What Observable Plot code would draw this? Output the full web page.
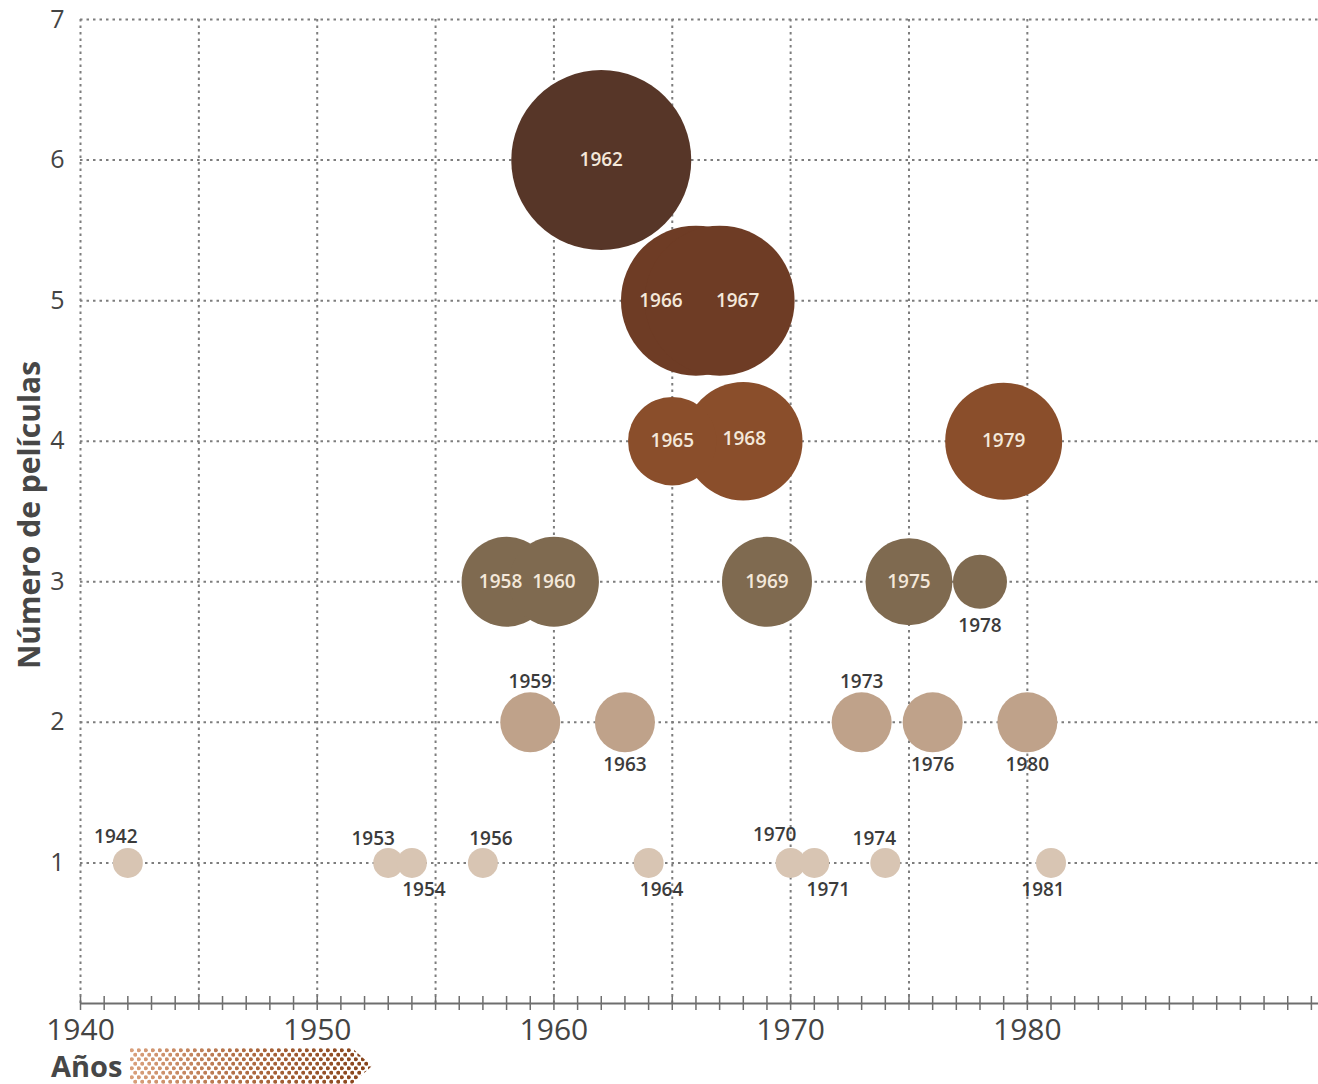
<!DOCTYPE html>
<html><head><meta charset="utf-8">
<script src="https://cdn.jsdelivr.net/npm/d3@7"></script>
<script src="https://cdn.jsdelivr.net/npm/@observablehq/plot@0.6"></script>
<style>
html,body{margin:0;padding:0;background:#fff;}
#chart{width:1318px;height:1084px;overflow:hidden;}
</style></head><body><div id="chart"></div>
<script>
// ---- data ----
const anios      = [1942,1953,1954,1957,1964,1970,1971,1974,1981, 1959,1963,1973,1976,1980, 1958,1960,1969,1975,1978, 1965,1968,1979, 1966,1967, 1962];
const etiquetas  = ["1942","1953","1954","1956","1964","1970","1971","1974","1981","1959","1963","1973","1976","1980","1958","1960","1969","1975","1978","1965","1968","1979","1966","1967","1962"];
const peliculas  = [1,1,1,1,1,1,1,1,1, 2,2,2,2,2, 3,3,3,3,3, 4,4,4, 5,5, 6];
const tamanio    = [1,1,1,1,1,1,1,1,1, 2,2,2,2,2, 3,3,3,2.9,1.8, 2.95,3.95,3.9, 5,5, 6];
const yTicks     = [1,2,3,4,5,6,7];
const xTickLabels = [1940,1950,1960,1970,1980];
const xGrid      = [1940,1945,1950,1955,1960,1965,1970,1975,1980];
const xMinorTicks = d3.range(1940, 1993);
const tituloY = "Número de películas";
const tituloX = "Años";

// ---- styling / layout ----
const colores = ["#d8c5b3","#bfa28a","#7f6a50","#8a4e2b","#6e3c25","#573628"];
// label placement offsets in px (relative to bubble centre)
const labelPos = {
  "1942":[-12,-26],"1953":[-15,-24],"1954":[12,27],"1956":[8,-24],"1964":[13,27],
  "1970":[-16,-28],"1971":[14,27],"1974":[-11,-24],"1981":[-8,27],
  "1959":[0,-40],"1963":[0,43],"1973":[0,-40],"1976":[0,43],"1980":[0,43],"1978":[0,44],
  "1958":[-6,0],"1966":[-35,0],"1967":[18,0],"1968":[1,-2]
};
const inside = new Set(["1958","1960","1969","1975","1965","1968","1979","1966","1967","1962"]);

const data = anios.map((a,i)=>({anio:a, label:etiquetas[i], n:peliculas[i], t:tamanio[i]}));
const FONT = "'Open Sans', 'DejaVu Sans', sans-serif";
const GRID = {stroke:"#7d7d7d", strokeWidth:2, strokeDasharray:"2.5,4"};

const labelMarks = data.map(d => {
  const [dx,dy] = labelPos[d.label] || [0,0];
  return Plot.text([d], {x:"anio", y:"n", text:"label", dx, dy,
    fill: inside.has(d.label) ? "#f4e8da" : "#3b3b3b",
    fontSize: 19, fontWeight: 600, fontFamily: FONT,
    style: "letter-spacing:1px"});
});

const chart = Plot.plot({
  width: 1318, height: 1084,
  marginLeft: 80, marginRight: 0, marginTop: 19, marginBottom: 81,
  style: {fontFamily: FONT, background: "#fff"},
  x: {domain: [1940, 1992.3], label: null},
  y: {domain: [0, 7], label: null},
  r: {type: "linear", domain: [0, 6], range: [0, 90]},
  color: {type: "ordinal", domain: [1,2,3,4,5,6], range: colores},
  marks: [
    Plot.ruleY(yTicks, GRID),
    Plot.ruleX(xGrid, {y1:0, y2:7, ...GRID}),
    Plot.ruleY([0], {stroke:"#6e6e6e", strokeWidth:2}),
    Plot.ruleX(xMinorTicks, {y1:0, y2:0, insetTop:-7, insetBottom:-7, stroke:"#6e6e6e", strokeWidth:1.5}),
    Plot.axisX(xTickLabels, {tickSize:0, tickPadding:15, tickFormat:d=>String(d), fontSize:30, fill:"#444", label:null}),
    Plot.axisY(yTicks, {tickSize:0, tickPadding:16, tickFormat:d=>String(d), fontSize:25, fill:"#444", label:null}),
    Plot.dot(data, {x:"anio", y:"n", r:"t", fill:"n", stroke:"none"}),
    ...labelMarks
  ]
});
document.getElementById("chart").appendChild(chart);

// ---- titles and arrow decoration ----
const svg = d3.select(chart);
svg.append("text")
  .attr("transform", "translate(32,515) rotate(-90)")
  .attr("text-anchor","middle").attr("dominant-baseline","middle")
  .attr("font-family", FONT).attr("font-weight",700).attr("font-size",30)
  .attr("fill","#474747").text(tituloY);
svg.append("text")
  .attr("x",51).attr("y",1077).attr("text-anchor","start")
  .attr("font-family", FONT).attr("font-weight",700).attr("font-size",29)
  .attr("fill","#474747").text(tituloX);

const defs = svg.append("defs");
const g = defs.append("linearGradient").attr("id","arrowGrad")
  .attr("gradientUnits","userSpaceOnUse").attr("x1",130).attr("x2",372).attr("y1",0).attr("y2",0);
g.append("stop").attr("offset","0").attr("stop-color","#d9a07c");
g.append("stop").attr("offset","0.55").attr("stop-color","#a9643a");
g.append("stop").attr("offset","1").attr("stop-color","#85421a");
const pat = defs.append("pattern").attr("id","dotPat").attr("patternUnits","userSpaceOnUse")
  .attr("x",130).attr("y",1048).attr("width",7).attr("height",9);
pat.append("circle").attr("cx",1.75).attr("cy",2.25).attr("r",2.1).attr("fill","#fff");
pat.append("circle").attr("cx",5.25).attr("cy",6.75).attr("r",2.1).attr("fill","#fff");
const mask = defs.append("mask").attr("id","arrowMask");
mask.append("rect").attr("x",120).attr("y",1040).attr("width",270).attr("height",50).attr("fill","url(#dotPat)");
svg.append("polygon")
  .attr("points","130,1048 352,1048 372,1066 352,1084 130,1084")
  .attr("fill","url(#arrowGrad)").attr("mask","url(#arrowMask)");
</script>
</body></html>
